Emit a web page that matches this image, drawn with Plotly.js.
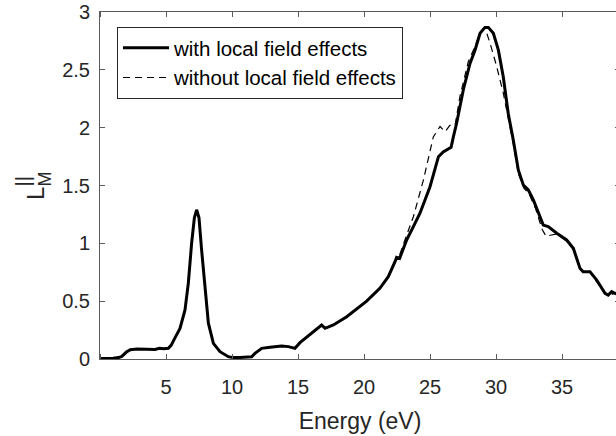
<!DOCTYPE html>
<html>
<head>
<meta charset="utf-8">
<script src="https://cdn.plot.ly/plotly-3.0.1.min.js"></script>
<style>
html,body{margin:0;padding:0;overflow:hidden;background:#fff;}
#chart{width:630px;height:436px;}
</style>
</head>
<body>
<div id="chart"></div>
<script>
// Energy (eV) and loss function, with local field effects
var energyWith = [0,0.5,1.0,1.4,1.65,2.0,2.3,2.8,3.5,4.17,4.5,4.8,5.18,5.4,5.6,6.06,6.44,6.69,6.94,7.15,7.32,7.5,7.7,7.95,8.21,8.59,9.09,9.72,10.1,10.6,11.0,11.49,11.74,12.25,12.88,13.26,13.76,14.27,14.77,15.15,15.78,16.41,16.79,17.05,17.68,18.69,19.57,20.2,21.2,21.84,22.35,22.47,22.7,23.23,23.74,24.24,25.0,25.64,26.0,26.39,26.6,26.77,27.02,27.53,28.03,28.41,28.79,29.17,29.42,29.8,30.18,30.55,30.93,31.31,31.69,32.07,32.45,32.83,33.2,33.58,33.96,34.6,35.35,35.86,36.36,36.6,37.12,37.63,38.26,38.5,38.76,39.0,39.5];
var lossWith = [0.005,0.005,0.007,0.012,0.022,0.06,0.08,0.087,0.086,0.083,0.093,0.088,0.092,0.12,0.165,0.265,0.424,0.654,1.0,1.22,1.29,1.22,0.94,0.6,0.31,0.135,0.063,0.02,0.012,0.014,0.018,0.02,0.049,0.092,0.101,0.104,0.112,0.107,0.092,0.141,0.199,0.251,0.294,0.265,0.294,0.366,0.447,0.5,0.611,0.712,0.841,0.879,0.87,1.029,1.144,1.26,1.49,1.749,1.79,1.82,1.83,1.92,2.04,2.33,2.556,2.67,2.816,2.867,2.867,2.816,2.67,2.44,2.12,1.893,1.634,1.504,1.461,1.375,1.26,1.158,1.144,1.087,1.029,0.957,0.784,0.755,0.755,0.683,0.568,0.553,0.582,0.568,0.55];
// without local field effects
var energyWithout = [0,0.5,1.0,1.4,1.65,2.0,2.3,2.8,3.5,4.17,4.5,4.8,5.18,5.4,5.6,6.06,6.44,6.69,6.94,7.15,7.32,7.5,7.7,7.95,8.21,8.59,9.09,9.72,10.1,10.6,11.0,11.49,11.74,12.25,12.88,13.26,13.76,14.27,14.77,15.15,15.78,16.41,16.79,17.05,17.68,18.69,19.57,20.2,21.2,21.84,22.35,22.7,23.23,23.74,24.5,25.25,25.76,26.14,26.5,26.9,27.27,27.9,28.4,28.79,29.05,29.29,29.55,30.05,30.55,31.06,31.31,31.7,32.1,32.5,33.0,33.5,33.8,34.1,34.6,35.35,35.9,36.4,36.7,37.1,37.7,38.3,38.6,39.0,39.5];
var lossWithout = [0.005,0.005,0.007,0.012,0.022,0.06,0.08,0.087,0.086,0.083,0.093,0.088,0.092,0.12,0.165,0.265,0.424,0.654,1.0,1.22,1.29,1.22,0.94,0.6,0.31,0.135,0.063,0.02,0.012,0.014,0.018,0.02,0.049,0.092,0.101,0.104,0.112,0.107,0.092,0.141,0.199,0.251,0.294,0.265,0.294,0.366,0.447,0.5,0.611,0.72,0.85,0.9,1.07,1.23,1.547,1.92,2.01,1.965,2.02,2.02,2.27,2.57,2.7,2.816,2.86,2.82,2.73,2.53,2.3,2.01,1.86,1.6,1.48,1.43,1.3,1.12,1.06,1.07,1.08,1.02,0.94,0.77,0.745,0.75,0.66,0.56,0.55,0.57,0.55];
var seriesNames = ['with local field effects','without local field effects'];
var xTicks = [5,10,15,20,25,30,35];
var yTicks = [0,0.5,1,1.5,2,2.5,3];
var xLabel = 'Energy (eV)';

var fontFam = '"Liberation Sans", Arial, Helvetica, sans-serif';
var txt = '#262626';
var axisCol = '#5a5a5a';

var traces = [
  {x: energyWith, y: lossWith, name: seriesNames[0], mode: 'lines',
   line: {color: '#000000', width: 3}},
  {x: energyWithout, y: lossWithout, name: seriesNames[1], mode: 'lines',
   line: {color: '#000000', width: 1.2, dash: '7px,5px'}}
];

var layout = {
  width: 630, height: 436,
  margin: {l: 100, r: 10, t: 12, b: 77},
  paper_bgcolor: '#fff', plot_bgcolor: '#fff',
  font: {family: fontFam, color: txt, size: 20},
  showlegend: true,
  legend: {
    x: 17/520, y: 1 - 15/347, xanchor: 'left', yanchor: 'top',
    bgcolor: '#fff', bordercolor: '#262626', borderwidth: 1,
    font: {size: 20.5, color: '#000'}, tracegroupgap: 0, itemwidth: 46
  },
  xaxis: {
    range: [0, 520/13.2], tickvals: xTicks, ticks: 'outside', ticklen: 10,
    tickcolor: 'rgba(0,0,0,0)', showline: true, linecolor: axisCol, linewidth: 1,
    mirror: 'ticks', showgrid: false, zeroline: false,
    minor: {ticks: 'inside', tick0: 0, dtick: 5, ticklen: 5, tickcolor: axisCol, showgrid: false},
    tickfont: {size: 20, color: txt},
    title: {text: xLabel, font: {size: 23, color: txt}, standoff: 15}
  },
  yaxis: {
    range: [0, 3], tickvals: yTicks, ticks: 'inside', ticklen: 5,
    tickcolor: axisCol, showline: true, linecolor: axisCol, linewidth: 1,
    mirror: 'ticks', showgrid: false, zeroline: false,
    tickfont: {size: 20, color: txt}, ticklabelstandoff: 5
  },
  annotations: [
    {text: 'L', xref: 'paper', yref: 'paper', x: 0, y: 0.5, xshift: -80, yshift: -8,
     textangle: -90, showarrow: false, font: {size: 24, color: txt}},
    {text: '||', xref: 'paper', yref: 'paper', x: 0, y: 0.5, xshift: -91, yshift: 4,
     textangle: -90, showarrow: false, font: {size: 20, color: txt}},
    {text: 'M', xref: 'paper', yref: 'paper', x: 0, y: 0.5, xshift: -68, yshift: 6,
     textangle: -90, showarrow: false, font: {size: 18, color: txt}}
  ]
};

Plotly.newPlot('chart', traces, layout, {displayModeBar: false, staticPlot: true});
</script>
</body>
</html>
